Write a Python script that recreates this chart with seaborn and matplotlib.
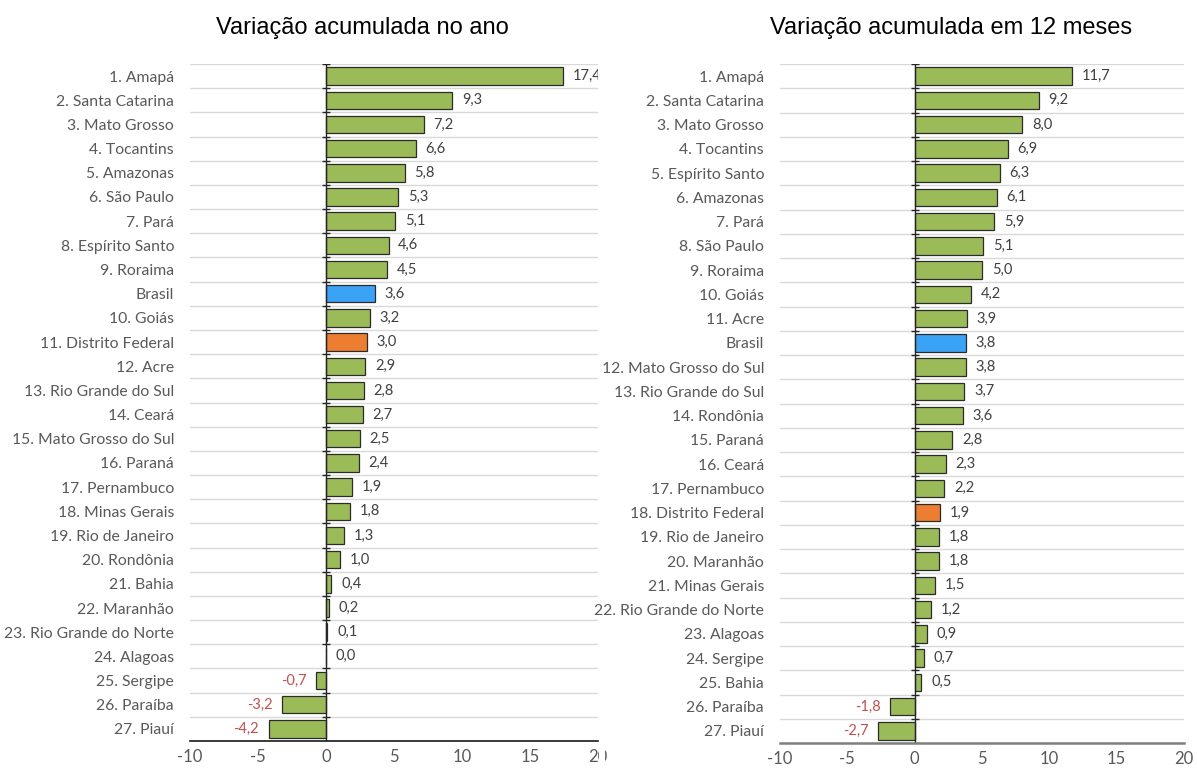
import numpy as np
import pandas as pd
import matplotlib
matplotlib.use("Agg")
import matplotlib.pyplot as plt
from matplotlib.patches import Rectangle
import seaborn as sns

# ---------------- data ----------------
left_title = "Variação acumulada no ano"
left_labels = ["1. Amapá", "2. Santa Catarina", "3. Mato Grosso", "4. Tocantins", "5. Amazonas",
               "6. São Paulo", "7. Pará", "8. Espírito Santo", "9. Roraima", "Brasil", "10. Goiás",
               "11. Distrito Federal", "12. Acre", "13. Rio Grande do Sul", "14. Ceará",
               "15. Mato Grosso do Sul", "16. Paraná", "17. Pernambuco", "18. Minas Gerais",
               "19. Rio de Janeiro", "20. Rondônia", "21. Bahia", "22. Maranhão",
               "23. Rio Grande do Norte", "24. Alagoas", "25. Sergipe", "26. Paraíba", "27. Piauí"]
left_values = [17.4, 9.3, 7.2, 6.6, 5.8, 5.3, 5.1, 4.6, 4.5, 3.6, 3.2, 3.0, 2.9, 2.8, 2.7,
               2.5, 2.4, 1.9, 1.8, 1.3, 1.0, 0.4, 0.2, 0.1, 0.0, -0.7, -3.2, -4.2]

right_title = "Variação acumulada em 12 meses"
right_labels = ["1. Amapá", "2. Santa Catarina", "3. Mato Grosso", "4. Tocantins", "5. Espírito Santo",
                "6. Amazonas", "7. Pará", "8. São Paulo", "9. Roraima", "10. Goiás", "11. Acre",
                "Brasil", "12. Mato Grosso do Sul", "13. Rio Grande do Sul", "14. Rondônia",
                "15. Paraná", "16. Ceará", "17. Pernambuco", "18. Distrito Federal",
                "19. Rio de Janeiro", "20. Maranhão", "21. Minas Gerais", "22. Rio Grande do Norte",
                "23. Alagoas", "24. Sergipe", "25. Bahia", "26. Paraíba", "27. Piauí"]
right_values = [11.7, 9.2, 8.0, 6.9, 6.3, 6.1, 5.9, 5.1, 5.0, 4.2, 3.9, 3.8, 3.8, 3.7, 3.6,
                2.8, 2.3, 2.2, 1.9, 1.8, 1.8, 1.5, 1.2, 0.9, 0.7, 0.5, -1.8, -2.7]

x_ticks = [-10, -5, 0, 5, 10, 15, 20]

palette = {"estado": "#9BBB59", "brasil": "#3AA3F5", "df": "#ED7D31"}


def group_of(label):
    if label == "Brasil":
        return "brasil"
    if "Distrito Federal" in label:
        return "df"
    return "estado"


# ---------------- style ----------------
sns.set_style("white")
plt.rcParams["font.family"] = ["Lato", "DejaVu Sans"]

W, H = 1197, 769
fig = plt.figure(figsize=(W / 100, H / 100), dpi=100)
fig.patch.set_facecolor("white")

ax_l = fig.add_axes([190 / W, 1 - 741 / H, 408 / W, 677 / H])
ax_r = fig.add_axes([780 / W, 1 - 743 / H, 404 / W, 679 / H])


def draw(ax, labels, values, bottom_color, bottom_lw):
    df = pd.DataFrame({"label": labels, "value": values,
                       "group": [group_of(l) for l in labels]})
    n = len(labels)
    sns.barplot(data=df, y="label", x="value", hue="group", order=labels,
                hue_order=["estado", "brasil", "df"], palette=palette, orient="h",
                dodge=False, width=0.72, saturation=1, edgecolor="#2b2b2b", linewidth=0.9,
                legend=False, ax=ax, zorder=3)
    ax.set_xlim(x_ticks[0], x_ticks[-1])
    ax.set_ylim(n - 0.5, -0.5)
    ax.set_xlabel("")
    ax.set_ylabel("")

    # gridlines at category boundaries
    bounds = np.arange(-0.5, n, 1.0)
    ax.set_yticks(bounds, minor=True)
    ax.grid(which="minor", axis="y", color="#D9D9D9", lw=1.0, zorder=0)
    ax.grid(which="major", visible=False)
    ax.tick_params(axis="y", which="both", length=0, pad=11.5,
                   labelsize=11.3, labelcolor="#595959")
    ax.set_xticks(x_ticks)
    ax.set_xticklabels([str(t) for t in x_ticks])
    ax.tick_params(axis="x", length=0, pad=6, labelsize=12, labelcolor="#595959")

    # zero axis with cross ticks at category boundaries
    ax.axvline(0, color="#262626", lw=1.0, zorder=4)
    ax.hlines(bounds[:-1], -0.3, 0.3, color="#262626", lw=1.0, zorder=4)

    for s in ["top", "right", "left"]:
        ax.spines[s].set_visible(False)
    ax.spines["bottom"].set_color(bottom_color)
    ax.spines["bottom"].set_linewidth(bottom_lw)
    ax.spines["bottom"].set_zorder(5)

    for i, v in enumerate(values):
        txt = f"{v:.1f}".replace(".", ",")
        if v < 0:
            ax.annotate(txt, (v, i), xytext=(-7, 0), textcoords="offset points",
                        ha="right", va="center", fontsize=10.5, color="#C0504D",
                        clip_on=True, zorder=6)
        else:
            ax.annotate(txt, (v, i), xytext=(7, 0), textcoords="offset points",
                        ha="left", va="center", fontsize=10.5, color="#404040",
                        annotation_clip=True, clip_on=True, zorder=6)


draw(ax_l, left_labels, left_values, "#1a1a1a", 1.2)
draw(ax_r, right_labels, right_values, "#7f7f7f", 1.8)

fig.text(362 / W, 1 - 28 / H, left_title, ha="center", va="center",
         fontsize=17, family=["Liberation Sans", "DejaVu Sans"], color="black")
fig.text(951 / W, 1 - 28 / H, right_title, ha="center", va="center",
         fontsize=17, family=["Liberation Sans", "DejaVu Sans"], color="black")

# the left panel is cut at its right edge in the reference
fig.add_artist(Rectangle((599 / W, 0), 6 / W, 26 / H, transform=fig.transFigure,
                         facecolor="white", edgecolor="none", zorder=10))

fig.savefig("out.png", dpi=100, facecolor="white")
